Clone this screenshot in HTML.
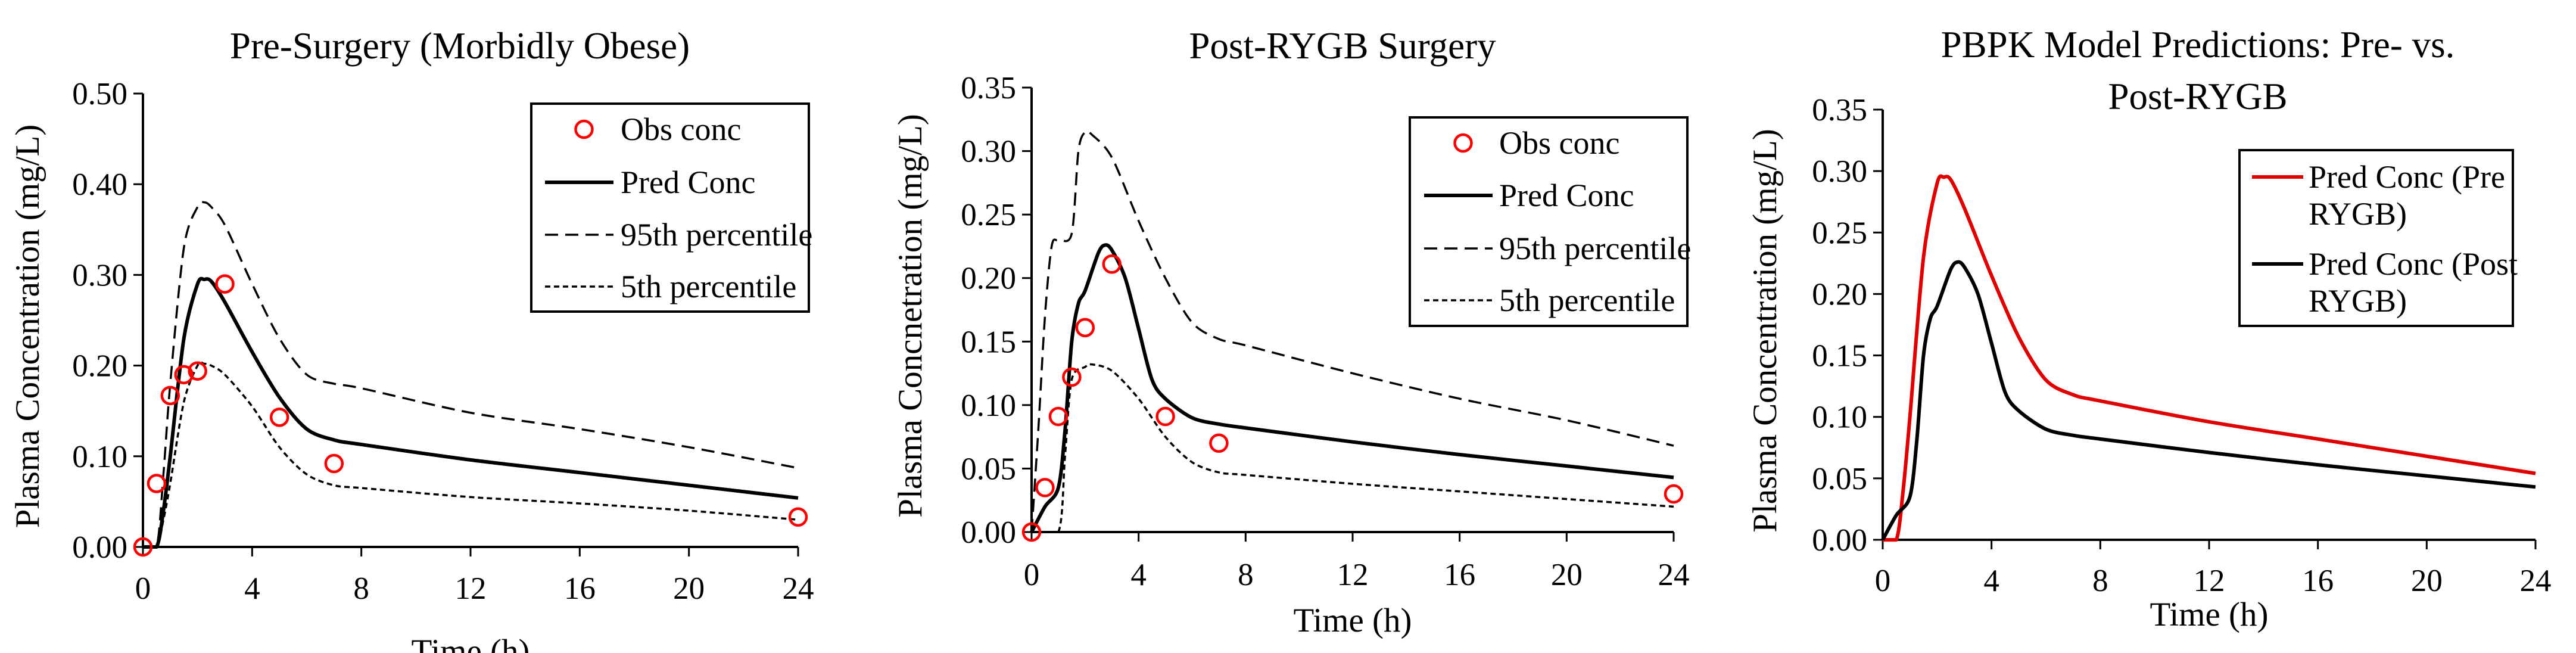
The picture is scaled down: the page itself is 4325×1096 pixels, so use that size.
<!DOCTYPE html>
<html><head><meta charset="utf-8"><style>
html,body{margin:0;padding:0;background:#fff;}
svg{display:block;font-family:"Liberation Serif",serif;}
</style></head><body>
<svg id="fig" width="4325" height="1096" viewBox="0 0 4325 1096" xmlns="http://www.w3.org/2000/svg">
<rect width="4325" height="1096" fill="#fff"/>
<text x="772" y="98" font-size="63" text-anchor="middle">Pre-Surgery (Morbidly Obese)</text>
<text x="2254" y="98" font-size="63" text-anchor="middle">Post-RYGB Surgery</text>
<text x="3690" y="96" font-size="63" text-anchor="middle">PBPK Model Predictions: Pre- vs.</text>
<text x="3690" y="183" font-size="63" text-anchor="middle">Post-RYGB</text>
<g id="p1"></g><g id="p2"></g><g id="p3"></g>
</svg>
<script>
// ---- data ----
const xTicks = [0,4,8,12,16,20,24];
const yTicks1 = [0,0.1,0.2,0.3,0.4,0.5];
const yTicks2 = [0,0.05,0.1,0.15,0.2,0.25,0.3,0.35];
const obsPreT = [0,0.5,1,1.5,2,3,5,7,24];
const obsPreC = [0,0.07,0.167,0.19,0.194,0.29,0.143,0.092,0.033];
const predPreT = [0,0.5,0.75,1,1.5,2,2.25,2.5,3,4,5,6,7,8,12,16,20,24];
const predPreC = [0,0,0.04,0.1,0.23,0.29,0.295,0.293,0.27,0.215,0.165,0.13,0.118,0.113,0.096,0.082,0.068,0.054];
const p95PreC = [0,0,0.08,0.18,0.33,0.375,0.38,0.375,0.355,0.29,0.23,0.19,0.18,0.175,0.148,0.13,0.11,0.087];
const p5PreC = [0,0,0.03,0.07,0.16,0.2,0.202,0.2,0.19,0.155,0.11,0.08,0.068,0.065,0.055,0.048,0.04,0.03];
const obsPostT = [0,0.5,1,1.5,2,3,5,7,24];
const obsPostC = [0,0.035,0.091,0.122,0.161,0.211,0.091,0.07,0.03];
const predPostT = [0,0.5,1,1.25,1.5,1.75,2,2.5,2.75,3,3.5,4,4.5,5,6,7,8,12,16,20,24];
const predPostC = [0,0.02,0.035,0.08,0.15,0.18,0.19,0.22,0.226,0.222,0.2,0.16,0.12,0.105,0.09,0.085,0.082,0.071,0.061,0.052,0.043];
const p95PostT = [0,0.25,0.5,0.75,1,1.5,1.75,2,2.25,3,4,5,6,7,8,12,16,20,24];
const p95PostC = [0,0.08,0.17,0.225,0.23,0.235,0.3,0.315,0.313,0.295,0.245,0.2,0.165,0.152,0.147,0.125,0.105,0.088,0.068];
const p5PostT = [0,1,1.25,1.5,2,2.25,3,4,5,6,7,8,12,16,20,24];
const p5PostC = [0,0,0.06,0.12,0.13,0.132,0.127,0.105,0.075,0.055,0.047,0.045,0.038,0.032,0.026,0.02];

const NS="http://www.w3.org/2000/svg";
function mk(parent,tag,attrs){const e=document.createElementNS(NS,tag);for(const k in attrs)e.setAttribute(k,attrs[k]);parent.appendChild(e);return e;}
function smooth(pts,ymaxPix){
  let d="M"+pts[0][0]+","+pts[0][1];
  const cl=y=>Math.min(y,ymaxPix);
  for(let i=0;i<pts.length-1;i++){
    const p0=pts[Math.max(0,i-1)],p1=pts[i],p2=pts[i+1],p3=pts[Math.min(pts.length-1,i+2)];
    const t=0.15;
    let c1x=p1[0]+(p2[0]-p0[0])*t,c1y=cl(p1[1]+(p2[1]-p0[1])*t);
    let c2x=p2[0]-(p3[0]-p1[0])*t,c2y=cl(p2[1]-(p3[1]-p1[1])*t);
    d+=" C"+c1x+","+c1y+" "+c2x+","+c2y+" "+p2[0]+","+p2[1];
  }
  return d;
}
function panel(g,cfg){
  const sx=v=>cfg.x0+(cfg.x1-cfg.x0)*v/24;
  const sy=v=>cfg.y0-(cfg.y0-cfg.y1)*v/cfg.ymax;
  const ax=mk(g,"g",{});
  
  
  mk(ax,"line",{x1:cfg.x0,y1:cfg.y1,x2:cfg.x0,y2:cfg.y0,stroke:"#000","stroke-width":4});
  mk(ax,"line",{x1:cfg.x0,y1:cfg.y0,x2:cfg.x1,y2:cfg.y0,stroke:"#000","stroke-width":4});
  cfg.yt.forEach(v=>{
    mk(ax,"line",{x1:cfg.x0-16,y1:sy(v),x2:cfg.x0,y2:sy(v),stroke:"#000","stroke-width":3});
    const t=mk(ax,"text",{x:cfg.x0-26,y:sy(v)+18,"font-size":53,"text-anchor":"end"});
    
    
    t.textContent=v.toFixed(2);
  });
  xTicks.forEach(v=>{
    mk(ax,"line",{x1:sx(v),y1:cfg.y0,x2:sx(v),y2:cfg.y0+16,stroke:"#000","stroke-width":3});
    const t=mk(ax,"text",{x:sx(v),y:cfg.xty,"font-size":53,"text-anchor":"middle"});
    
    
    t.textContent=v;
  });
  const yl=mk(ax,"text",{x:0,y:0,"font-size":57,"text-anchor":"middle",transform:`translate(${cfg.ytx},${(cfg.y0+cfg.y1)/2+10}) rotate(-90)`});
  
  
  yl.textContent=cfg.ylab;
  const xl=mk(ax,"text",{x:(cfg.x0+cfg.x1)/2,y:cfg.xly,"font-size":57,"text-anchor":"middle"});
  
  
  xl.textContent="Time (h)";
  cfg.lines.forEach(L=>{
    const p=mk(g,"path",{d:smooth(L.t.map((t,i)=>[sx(t),sy(L.c[i])]),cfg.y0),fill:"none",stroke:L.col,"stroke-width":L.w,"stroke-dasharray":L.dash||"none","stroke-linejoin":"round"});
    
    
  });
  if(cfg.obsT){cfg.obsT.forEach((t,i)=>{
    const c=mk(g,"circle",{cx:sx(t),cy:sy(cfg.obsC[i]),r:14,fill:"none",stroke:"#ff0000","stroke-width":4.5});
    
    
  });}
}
function legend(g,box,items){
  const lg=mk(g,"g",{});
  
  
  mk(lg,"rect",{x:box[0],y:box[1],width:box[2],height:box[3],fill:"#fff",stroke:"#000","stroke-width":4});
  items.forEach(it=>{
    const e=mk(lg,"g",{});
    
    
    if(it.type==="circle") mk(e,"circle",{cx:(it.lx1+it.lx2)/2+8,cy:it.y,r:14,fill:"none",stroke:"#ff0000","stroke-width":4.5});
    else mk(e,"line",{x1:it.lx1,y1:it.y,x2:it.lx2,y2:it.y,stroke:it.col,"stroke-width":it.w,"stroke-dasharray":it.dash||"none"});
    it.text.forEach((s,k)=>{const t=mk(e,"text",{x:it.tx,y:it.y+18+k*62,"font-size":54});t.textContent=s;});
  });
}
const D95="22,12",D5="9,6";
panel(document.getElementById("p1"),{x0:240,x1:1340,y0:918,y1:157,ymax:0.5,yt:yTicks1,xty:1005,xly:1112,ytx:65,ylab:"Plasma Concentration (mg/L)",
  obsT:obsPreT,obsC:obsPreC,lines:[
  {name:"pct95-line",t:predPreT,c:p95PreC,col:"#000",w:3.5,dash:D95},
  {name:"pct5-line",t:predPreT,c:p5PreC,col:"#000",w:3.5,dash:D5},
  {name:"pred-line",t:predPreT,c:predPreC,col:"#000",w:6}]});
legend(document.getElementById("p1"),[892,174,466,349],[
  {type:"circle",lx1:915,lx2:1030,y:217,tx:1042,text:["Obs conc"]},
  {lx1:915,lx2:1030,y:306,col:"#000",w:6,tx:1042,text:["Pred Conc"]},
  {lx1:915,lx2:1030,y:394,col:"#000",w:3.5,dash:D95,tx:1042,text:["95th percentile"]},
  {lx1:915,lx2:1030,y:481,col:"#000",w:3.5,dash:D5,tx:1042,text:["5th percentile"]}]);
panel(document.getElementById("p2"),{x0:1732,x1:2810,y0:893,y1:147,ymax:0.35,yt:yTicks2,xty:982,xly:1060,ytx:1547,ylab:"Plasma Concnetration (mg/L)",
  obsT:obsPostT,obsC:obsPostC,lines:[
  {name:"pct95-line",t:p95PostT,c:p95PostC,col:"#000",w:3.5,dash:D95},
  {name:"pct5-line",t:p5PostT,c:p5PostC,col:"#000",w:3.5,dash:D5},
  {name:"pred-line",t:predPostT,c:predPostC,col:"#000",w:6}]});
legend(document.getElementById("p2"),[2367,197,466,350],[
  {type:"circle",lx1:2391,lx2:2506,y:240,tx:2517,text:["Obs conc"]},
  {lx1:2391,lx2:2506,y:328,col:"#000",w:6,tx:2517,text:["Pred Conc"]},
  {lx1:2391,lx2:2506,y:417,col:"#000",w:3.5,dash:D95,tx:2517,text:["95th percentile"]},
  {lx1:2391,lx2:2506,y:504,col:"#000",w:3.5,dash:D5,tx:2517,text:["5th percentile"]}]);
panel(document.getElementById("p3"),{x0:3161,x1:4257,y0:906,y1:184,ymax:0.35,yt:yTicks2,xty:992,xly:1050,ytx:2982,ylab:"Plasma Concentration (mg/L)",
  lines:[
  {name:"pred-pre-rygb-line",t:predPreT,c:predPreC,col:"#e00000",w:6},
  {name:"pred-post-rygb-line",t:predPostT,c:predPostC,col:"#000",w:6}]});
legend(document.getElementById("p3"),[3760,252,459,295],[
  {lx1:3781,lx2:3867,y:297,col:"#e00000",w:6,tx:3876,text:["Pred Conc (Pre","RYGB)"]},
  {lx1:3781,lx2:3867,y:443,col:"#000",w:6,tx:3876,text:["Pred Conc (Post","RYGB)"]}]);
</script>
</body></html>
